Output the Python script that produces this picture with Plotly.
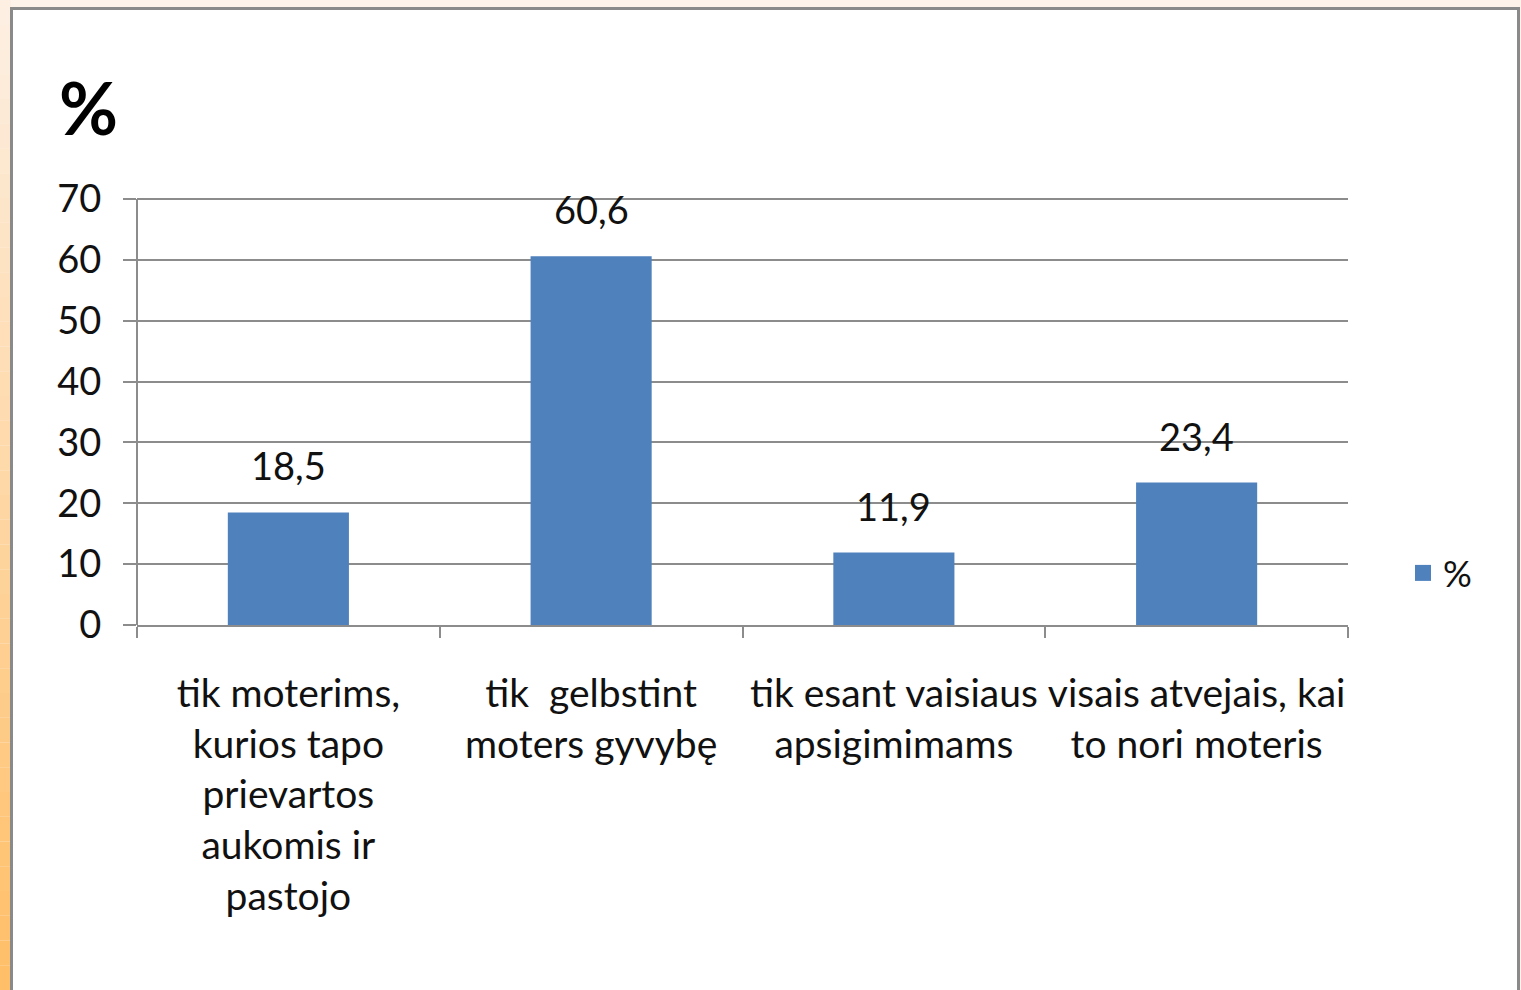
import plotly.graph_objects as go

categories = [
    "tik moterims,<br>kurios tapo<br>prievartos<br>aukomis ir<br>pastojo",
    "tik\u00a0 gelbstint<br>moters gyvybę",
    "tik esant vaisiaus<br>apsigimimams",
    "visais atvejais, kai<br>to nori moteris",
]
values = [18.5, 60.6, 11.9, 23.4]
series_name = "%"
y_ticks = [0, 10, 20, 30, 40, 50, 60, 70]

W, H = 1521, 990
YMAX = 71
L, R, B = 137, 1521 - 1348, 990 - 625
T = round(625 - YMAX * (625 - 199) / 70)
pw, ph = W - L - R, H - T - B

def fx(px):
    return (px - L) / pw

def fy(py):
    return (H - B - py) / ph

FONT = "Lato"
TXT = "#111111"
BAR = "#4f81bd"

fig = go.Figure()
fig.add_trace(go.Bar(
    x=categories, y=values, name=series_name, showlegend=False,
    marker=dict(color=BAR, line=dict(width=0)),
))
fig.add_trace(go.Scatter(
    x=[None], y=[None], mode="markers", name=series_name,
    marker=dict(symbol="square", size=24, color=BAR),
))

annotations = [dict(text="<b>%</b>", xref="paper", yref="paper",
                    x=fx(57), y=fy(107), xanchor="left", yanchor="middle",
                    showarrow=False, font=dict(family=FONT, size=72, color="#000"))]
for c, v in zip(categories, values):
    annotations.append(dict(x=c, y=v, xref="x", yref="y", text=("%.1f" % v).replace(".", ","),
                            showarrow=False, yanchor="middle", yshift=47,
                            font=dict(family=FONT, size=38, color=TXT)))

shapes = []
n = 40
def lerp(c1, c2, t):
    return "rgb(%d,%d,%d)" % tuple(round(a + (b - a) * t) for a, b in zip(c1, c2))
top_c, bot_c = (253, 240, 228), (255, 190, 102)
for i in range(n):
    y0 = H * i / n
    y1 = H * (i + 1) / n
    shapes.append(dict(type="rect", xref="paper", yref="paper", layer="below",
                       x0=fx(0), x1=fx(11), y0=fy(y1), y1=fy(y0),
                       fillcolor=lerp(top_c, bot_c, (i + 0.5) / n), line=dict(width=0)))
shapes.append(dict(type="rect", xref="paper", yref="paper", layer="below",
                   x0=fx(11.5), x1=fx(1518.5), y0=fy(1000), y1=fy(8.5),
                   fillcolor="white", line=dict(color="#8a8a8a", width=3)))

fig.update_layout(
    width=W, height=H,
    margin=dict(l=L, r=R, t=T, b=B),
    paper_bgcolor="#fdf3ea", plot_bgcolor="rgba(0,0,0,0)",
    bargap=0.6,
    shapes=shapes,
    annotations=annotations,
    font=dict(family=FONT, color=TXT),
    showlegend=True,
    legend=dict(x=fx(1403), y=fy(573), xanchor="left", yanchor="middle",
                font=dict(family=FONT, size=36, color=TXT),
                bgcolor="rgba(0,0,0,0)", itemwidth=30),
)
fig.update_yaxes(range=[0, YMAX], tickvals=y_ticks, showgrid=True, gridcolor="#8c8c8c", gridwidth=2,
                 showline=False,
                 ticks="outside", ticklen=13, tickcolor="#8c8c8c", tickwidth=2,
                 ticklabelstandoff=14,
                 tickfont=dict(family=FONT, size=38, color=TXT), zeroline=False)
fig.add_shape(type="line", xref="x domain", yref="y", x0=0, x1=0, y0=0, y1=70,
              line=dict(color="#8c8c8c", width=2))
fig.update_xaxes(showline=True, linecolor="#8c8c8c", linewidth=2,
                 ticks="outside", tickson="boundaries", ticklen=11, tickcolor="#8c8c8c", tickwidth=2,
                 ticklabelstandoff=33,
                 tickfont=dict(family=FONT, size=39, color=TXT), tickangle=0)

fig.write_html("out.html", config={"displayModeBar": False},
               post_script="document.body.style.margin='0';document.body.style.background='#fdf3ea';")
